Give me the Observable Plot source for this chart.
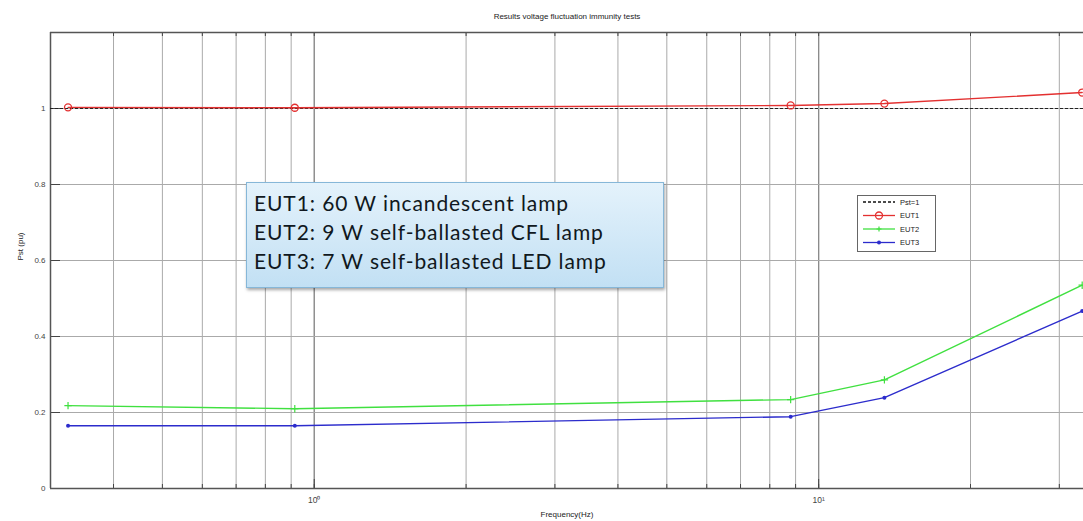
<!DOCTYPE html>
<html><head><meta charset="utf-8">
<script src="https://cdn.jsdelivr.net/npm/d3@7"></script>
<script src="https://cdn.jsdelivr.net/npm/@observablehq/plot@0.6"></script>
<style>
body{margin:0;background:#fff;}
#wrap{position:relative;width:1083px;height:521px;overflow:hidden;font-family:Arial,"Liberation Sans",sans-serif;}
#legend{position:absolute;left:857px;top:195px;width:77px;height:55px;border:1px solid #666;background:#fff;}
#note{position:absolute;left:246px;top:182px;width:418px;height:106px;border:1px solid #86b7d8;
 background:linear-gradient(#e4f2fb,#c2e0f4);box-shadow:1px 2px 3px rgba(0,0,0,0.35);
 font-family:Lato,"Open Sans",sans-serif;font-size:21px;letter-spacing:0.9px;color:#101820;line-height:29px;padding:5px 0 0 7px;box-sizing:border-box;}
</style></head>
<body>
<div id="wrap"><div id="chart"></div>
<div id="note"><div>EUT1: 60 W incandescent lamp</div><div>EUT2: 9 W self-ballasted CFL lamp</div><div>EUT3: 7 W self-ballasted LED lamp</div></div>
<div id="legend"></div>
</div>
<script>
const frequencies = [0.325, 0.915, 8.8, 13.5, 33.3];
const eut1 = [1.003, 1.002, 1.008, 1.013, 1.042];
const eut2 = [0.218, 0.210, 0.234, 0.286, 0.535];
const eut3 = [0.165, 0.165, 0.189, 0.239, 0.467];
const pstLimit = 1;
const seriesNames = ["Pst=1", "EUT1", "EUT2", "EUT3"];
const seriesColors = ["#111", "#e33030", "#40e040", "#2c2ccc"];
const xGridTicks = [0.4,0.5,0.6,0.7,0.8,0.9,1,2,3,4,5,6,7,8,9,10,20,30];
const xLabelTicks = [1, 10];
const xLabelText = {1: "10\u2070", 10: "10\u00b9"};
const yTicks = [0, 0.2, 0.4, 0.6, 0.8, 1];
const yGrid = [0.2, 0.4, 0.6, 0.8, 1];
const titleText = "Results voltage fluctuation immunity tests";
const xLabel = "Frequency(Hz)";
const yLabel = "Pst (pu)";

const rows = [];
[eut1, eut2, eut3].forEach((vals, s) => vals.forEach((v, i) => rows.push({f: frequencies[i], v, s: seriesNames[s+1]})));
const col = {EUT1: seriesColors[1], EUT2: seriesColors[2], EUT3: seriesColors[3]};
const xMin = 0.3, yMax = 1.2;

const chart = Plot.plot({
  width: 1083, height: 521,
  marginLeft: 50, marginRight: 0, marginTop: 32, marginBottom: 33,
  x: {type: "log", domain: [xMin, 33.5], axis: null},
  y: {domain: [0, yMax], axis: null},
  style: {fontFamily: "Arial, 'Liberation Sans', sans-serif", background: "transparent"},
  marks: [
    Plot.ruleX(xGridTicks, {stroke: "#aaa", strokeWidth: 1}),
    Plot.ruleX(xLabelTicks, {stroke: "#888", strokeWidth: 1.2}),
    Plot.ruleY(yGrid, {stroke: "#aaa", strokeWidth: 1}),
    // inward tick marks
    Plot.ruleX(xGridTicks, {y1: 0, y2: 0, insetBottom: 4, stroke: "#444"}),
    Plot.ruleX(xLabelTicks, {y1: 0, y2: 0, insetBottom: 9, stroke: "#444"}),
    Plot.ruleX(xGridTicks, {y1: yMax, y2: yMax, insetTop: 4, stroke: "#444"}),
    Plot.ruleY(yTicks, {x1: xMin, x2: xMin, insetRight: -10, stroke: "#444"}),
    Plot.text(xLabelTicks, {x: d => d, frameAnchor: "bottom", dy: 14, text: d => xLabelText[d], fontSize: 8.5, fill: "#444"}),
    Plot.text(yTicks, {y: d => d, frameAnchor: "left", dx: -5, textAnchor: "end", text: d => String(d), fontSize: 8, fill: "#444"}),
    Plot.ruleY([0, yMax], {stroke: "#555", strokeWidth: 1.5}),
    Plot.ruleX([xMin], {stroke: "#555", strokeWidth: 1.5}),
    Plot.ruleY([pstLimit], {stroke: "#222", strokeWidth: 1.2, strokeDasharray: "3,2"}),
    Plot.line(rows, {x: "f", y: "v", z: "s", stroke: d => col[d.s], strokeWidth: 1.4}),
    Plot.dot(rows.filter(d => d.s === "EUT1"), {x: "f", y: "v", r: 3.5, stroke: col.EUT1, fill: "none", strokeWidth: 1.3}),
    Plot.dot(rows.filter(d => d.s === "EUT2"), {x: "f", y: "v", r: 2.5, symbol: "plus", stroke: col.EUT2, strokeWidth: 1.2}),
    Plot.dot(rows.filter(d => d.s === "EUT3"), {x: "f", y: "v", r: 2, fill: col.EUT3}),
    Plot.text([titleText], {frameAnchor: "top", dy: -19, fontSize: 8, fill: "#222"}),
    Plot.text([xLabel], {frameAnchor: "bottom", dy: 28, fontSize: 8, fill: "#222"}),
    Plot.text([yLabel], {frameAnchor: "left", dx: -30, rotate: -90, fontSize: 8, fill: "#222"})
  ]
});
document.getElementById("chart").appendChild(chart);

// legend
const lg = d3.select("#legend").append("svg").attr("width", 77).attr("height", 55);
seriesNames.forEach((name, i) => {
  const y = 6 + i * 13.5;
  lg.append("line").attr("x1", 5).attr("x2", 37).attr("y1", y).attr("y2", y)
    .attr("stroke", seriesColors[i]).attr("stroke-width", 1.3).attr("stroke-dasharray", i === 0 ? "3,2" : null);
  if (i === 1) lg.append("circle").attr("cx", 21).attr("cy", y).attr("r", 3.5).attr("fill", "none").attr("stroke", seriesColors[i]).attr("stroke-width", 1.3);
  if (i === 2) lg.append("path").attr("d", `M18.5,${y}h5M21,${y-2.5}v5`).attr("stroke", seriesColors[i]).attr("stroke-width", 1.2);
  if (i === 3) lg.append("circle").attr("cx", 21).attr("cy", y).attr("r", 2).attr("fill", seriesColors[i]);
  lg.append("text").attr("x", 42).attr("y", y + 2.5).attr("font-size", 7.5).attr("fill", "#222").text(name);
});
</script>
</body></html>
